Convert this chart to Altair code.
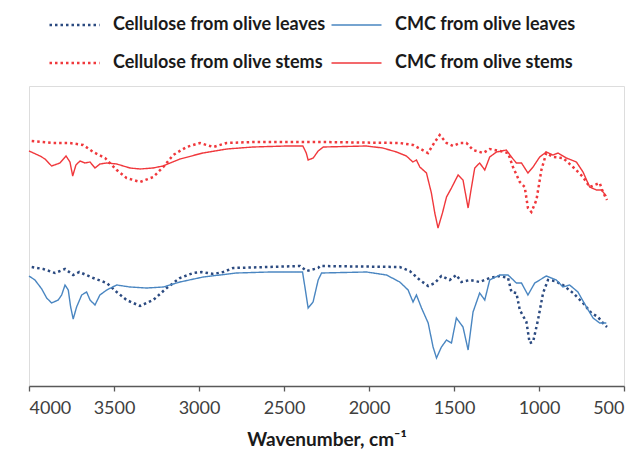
import altair as alt
import pandas as pd

# Series names (legend order: Vega fills legend columns first)
series_names = [
    "Cellulose from olive leaves",
    "Cellulose from olive stems",
    "CMC from olive leaves",
    "CMC from olive stems",
]

# Cellulose from olive leaves (dotted navy)
wn_cel_leaves = [3984, 3916, 3847, 3788, 3740, 3704, 3622, 3543, 3484, 3426, 3347, 3269, 3190, 3112,
                 3034, 2985, 2916, 2858, 2799, 2406, 2367, 2299, 2289, 1819, 1760, 1701, 1652, 1613,
                 1574, 1525, 1486, 1456, 1407, 1349, 1290, 1231, 1182, 1162, 1133, 1113, 1074, 1055,
                 1035, 1006, 976, 947, 908, 859, 800, 741, 692, 653, 624, 600]
t_cel_leaves = [119, 117, 113, 117, 111, 114, 108, 103, 94, 86, 80, 86, 98, 108,
                113, 114, 112, 114, 118, 120, 115, 118, 120, 119, 115, 106, 100, 103,
                110, 106, 111, 104, 106, 104, 108, 110, 108, 94, 93, 76, 64, 43,
                44, 66, 93, 106, 105, 101, 93, 83, 73, 69, 63, 59]

# CMC from olive leaves (solid blue)
wn_cmc_leaves = [4000, 3965, 3925, 3896, 3867, 3828, 3808, 3788, 3769, 3755, 3740, 3720, 3690, 3661,
                 3641, 3612, 3583, 3543, 3484, 3406, 3308, 3210, 3112, 2975, 2779, 2583, 2391, 2377,
                 2358, 2329, 2299, 2279, 2015, 1897, 1819, 1770, 1741, 1721, 1691, 1652, 1623, 1603,
                 1574, 1544, 1515, 1486, 1447, 1417, 1388, 1349, 1319, 1290, 1231, 1182, 1133, 1103,
                 1065, 1025, 957, 898, 859, 820, 771, 721, 682, 643, 604]
t_cmc_leaves = [110, 106, 97, 88, 83, 86, 91, 101, 96, 79, 67, 79, 91, 94,
                86, 81, 91, 96, 101, 99, 98, 99, 104, 109, 113, 114, 114, 99,
                78, 84, 106, 113, 114, 111, 104, 96, 84, 91, 78, 63, 39, 28,
                39, 46, 43, 68, 59, 36, 74, 93, 86, 106, 111, 111, 103, 103,
                91, 103, 110, 106, 99, 101, 94, 79, 68, 63, 63]

# Cellulose from olive stems (dotted red)
wn_cel_stems = [3984, 3857, 3759, 3681, 3622, 3553, 3484, 3426, 3347, 3269, 3210, 3152, 3073, 2995,
                2916, 2838, 2683, 2289, 1819, 1741, 1653, 1613, 1584, 1544, 1506, 1466, 1427, 1388,
                1329, 1290, 1231, 1182, 1153, 1113, 1084, 1065, 1045, 1015, 986, 957, 918, 859,
                800, 741, 702, 643, 624, 600]
t_cel_stems = [245, 243, 243, 241, 234, 228, 216, 208, 204, 209, 219, 231, 239, 243,
               239, 243, 244, 244, 243, 241, 233, 244, 251, 243, 240, 243, 243, 236,
               233, 237, 235, 233, 219, 204, 199, 178, 174, 186, 216, 233, 229, 228,
               219, 209, 199, 203, 194, 186]

# CMC from olive stems (solid red)
wn_cmc_stems = [4000, 3935, 3906, 3867, 3818, 3782, 3759, 3743, 3724, 3700, 3671, 3641, 3612, 3583,
                3543, 3484, 3406, 3347, 3271, 3212, 3112, 2977, 2836, 2683, 2483, 2389, 2369, 2358,
                2328, 2299, 2269, 2015, 1919, 1838, 1780, 1742, 1721, 1701, 1662, 1633, 1613, 1594,
                1568, 1544, 1515, 1476, 1447, 1417, 1397, 1378, 1349, 1319, 1290, 1250, 1192, 1162,
                1133, 1103, 1065, 1035, 996, 957, 918, 888, 839, 780, 741, 702, 662, 633, 604]
t_cmc_stems = [235, 230, 227, 220, 223, 230, 224, 210, 221, 225, 223, 224, 218, 222,
               223, 222, 218, 217, 218, 220, 227, 233, 237, 239, 240, 240, 233, 226,
               228, 235, 239, 240, 238, 234, 230, 224, 226, 219, 213, 193, 173, 158,
               173, 189, 198, 211, 206, 178, 199, 218, 223, 216, 229, 234, 236, 229,
               223, 223, 213, 219, 229, 234, 231, 233, 228, 224, 214, 199, 196, 196, 190]

x_ticks = [4000, 3500, 3000, 2500, 2000, 1500, 1000, 500]

colors = ["#2B4A80", "#F0383C", "#4A86C1", "#F0383C"]
dashes = [[2.5, 3], [2.5, 3], [1, 0], [1, 0]]
widths = [2.5, 2.5, 1.4, 1.4]

frames = []
for name, wn, t in [
    ("Cellulose from olive leaves", wn_cel_leaves, t_cel_leaves),
    ("CMC from olive leaves", wn_cmc_leaves, t_cmc_leaves),
    ("Cellulose from olive stems", wn_cel_stems, t_cel_stems),
    ("CMC from olive stems", wn_cmc_stems, t_cmc_stems),
]:
    frames.append(pd.DataFrame({"series": name, "wavenumber": wn, "T": t}))
df = pd.concat(frames, ignore_index=True)

legend = alt.Legend(
    title=None,
    orient="none",
    legendX=19,
    legendY=-73,
    columns=2,
    symbolType="stroke",
    symbolSize=2500,
    clipHeight=24,
    labelFont="Lato",
    labelFontSize=18,
    labelFontWeight="bold",
    labelColor="#1a1a1a",
    labelOffset=12,
    columnPadding=4,
    rowPadding=14,
    labelLimit=400,
)

chart = (
    alt.Chart(df)
    .mark_line(strokeCap="butt")
    .encode(
        x=alt.X(
            "wavenumber:Q",
            scale=alt.Scale(domain=[4000, 500], nice=False, zero=False),
            axis=alt.Axis(
                values=x_ticks,
                format="d",
                title="Wavenumber, cm⁻¹",
                grid=False,
                domainColor="#595959",
                domainWidth=1.3,
                tickColor="#595959",
                tickWidth=1.3,
                tickSize=5,
                labelFont="Lato",
                labelFontSize=18,
                labelColor="#404040",
                labelPadding=8,
                titleFont="Lato",
                titleFontSize=19,
                titleFontWeight="bold",
                titleColor="#1a1a1a",
                titlePadding=13,
            ),
        ),
        y=alt.Y("T:Q", scale=alt.Scale(domain=[0, 300]), axis=None),
        color=alt.Color("series:N", scale=alt.Scale(domain=series_names, range=colors), legend=legend),
        strokeDash=alt.StrokeDash("series:N", scale=alt.Scale(domain=series_names, range=dashes), legend=legend),
        strokeWidth=alt.StrokeWidth(
            "series:N",
            scale=alt.Scale(type="ordinal", domain=series_names, range=widths),
            legend=legend,
        ),
        detail="series:N",
    )
    .properties(
        width=595,
        height=300,
        autosize=alt.AutoSizeParams(type="none"),
        padding={"left": 29, "top": 86, "right": 17, "bottom": 66},
    )
    .configure_view(stroke=None)
    .configure(background="white")
)

chart.save("out.html", embed_options={"renderer": "svg", "actions": False})
